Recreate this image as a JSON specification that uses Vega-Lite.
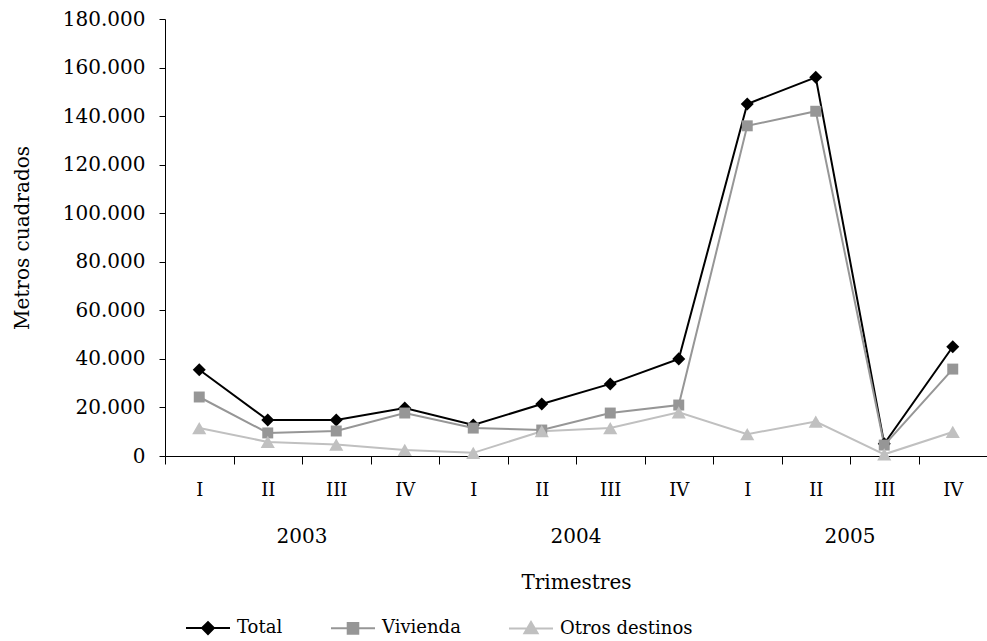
{
  "$schema": "https://vega.github.io/schema/vega-lite/v6.json",
  "width": 822,
  "height": 437,
  "autosize": {"type": "none"},
  "padding": {"left": 165, "top": 19, "right": 0, "bottom": 185},
  "background": "white",
  "config": {
    "font": "DejaVu Serif",
    "view": {"stroke": null},
    "axis": {
      "labelFont": "DejaVu Serif",
      "titleFont": "DejaVu Serif",
      "labelColor": "black",
      "titleColor": "black",
      "titleFontWeight": "normal",
      "domainColor": "black",
      "tickColor": "black",
      "grid": false
    },
    "legend": {"labelFont": "DejaVu Serif", "labelColor": "black"}
  },
  "layer": [
    {
      "data": {
        "values": [
          {"trim": "2003-I", "serie": "Total", "value": 35500},
          {"trim": "2003-II", "serie": "Total", "value": 14800},
          {"trim": "2003-III", "serie": "Total", "value": 14800},
          {"trim": "2003-IV", "serie": "Total", "value": 19800},
          {"trim": "2004-I", "serie": "Total", "value": 12800},
          {"trim": "2004-II", "serie": "Total", "value": 21400},
          {"trim": "2004-III", "serie": "Total", "value": 29700},
          {"trim": "2004-IV", "serie": "Total", "value": 40000},
          {"trim": "2005-I", "serie": "Total", "value": 145000},
          {"trim": "2005-II", "serie": "Total", "value": 156000},
          {"trim": "2005-III", "serie": "Total", "value": 5000},
          {"trim": "2005-IV", "serie": "Total", "value": 45000},
          {"trim": "2003-I", "serie": "Vivienda", "value": 24300},
          {"trim": "2003-II", "serie": "Vivienda", "value": 9500},
          {"trim": "2003-III", "serie": "Vivienda", "value": 10300},
          {"trim": "2003-IV", "serie": "Vivienda", "value": 17700},
          {"trim": "2004-I", "serie": "Vivienda", "value": 11500},
          {"trim": "2004-II", "serie": "Vivienda", "value": 10700},
          {"trim": "2004-III", "serie": "Vivienda", "value": 17700},
          {"trim": "2004-IV", "serie": "Vivienda", "value": 21000},
          {"trim": "2005-I", "serie": "Vivienda", "value": 136000},
          {"trim": "2005-II", "serie": "Vivienda", "value": 142000},
          {"trim": "2005-III", "serie": "Vivienda", "value": 4500},
          {"trim": "2005-IV", "serie": "Vivienda", "value": 35800},
          {"trim": "2003-I", "serie": "Otros destinos", "value": 11500},
          {"trim": "2003-II", "serie": "Otros destinos", "value": 5800},
          {"trim": "2003-III", "serie": "Otros destinos", "value": 4700},
          {"trim": "2003-IV", "serie": "Otros destinos", "value": 2500},
          {"trim": "2004-I", "serie": "Otros destinos", "value": 1300},
          {"trim": "2004-II", "serie": "Otros destinos", "value": 10200},
          {"trim": "2004-III", "serie": "Otros destinos", "value": 11500},
          {"trim": "2004-IV", "serie": "Otros destinos", "value": 18000},
          {"trim": "2005-I", "serie": "Otros destinos", "value": 9000},
          {"trim": "2005-II", "serie": "Otros destinos", "value": 14200},
          {"trim": "2005-III", "serie": "Otros destinos", "value": 700},
          {"trim": "2005-IV", "serie": "Otros destinos", "value": 9900}
        ]
      },
      "encoding": {
        "x": {
          "field": "trim",
          "type": "ordinal",
          "sort": null,
          "scale": {"type": "band", "paddingInner": 0, "paddingOuter": 0},
          "axis": {
            "title": null,
            "labelExpr": "split(datum.label, '-')[1]",
            "labelAngle": 0,
            "tickBand": "extent",
            "tickSize": 8,
            "labelPadding": 17,
            "labelFontSize": 18
          }
        },
        "y": {
          "field": "value",
          "type": "quantitative",
          "scale": {"domain": [0, 180000], "nice": false},
          "axis": {
            "title": "Metros cuadrados",
            "values": [0, 20000, 40000, 60000, 80000, 100000, 120000, 140000, 160000, 180000],
            "labelExpr": "datum.value == 0 ? '0' : format(datum.value / 1000, 'd') + '.000'",
            "labelFontSize": 20,
            "titleFontSize": 20,
            "tickSize": 6,
            "labelPadding": 14,
            "titlePadding": 30
          }
        },
        "color": {
          "field": "serie",
          "type": "nominal",
          "scale": {"domain": ["Total", "Vivienda", "Otros destinos"], "range": ["#000000", "#969696", "#c0c0c0"]},
          "legend": {
            "orient": "none",
            "legendX": 20,
            "legendY": 586,
            "direction": "horizontal",
            "title": null,
            "labelFontSize": 18,
            "columnPadding": 44,
            "labelOffset": 6,
            "padding": 0,
            "symbolSize": 1936,
            "symbolStrokeWidth": 2,
            "symbolOpacity": 1,
            "encode": {
              "symbols": {
                "update": {
                  "shape": {"signal": "datum.value === 'Total' ? 'M-1,0H1M-0.27,0L0,-0.27L0.27,0L0,0.27Z' : datum.value === 'Vivienda' ? 'M-1,0H1M-0.24,-0.24H0.24V0.24H-0.24Z' : 'M-1,0H1M-0.3,0.22L0,-0.3L0.3,0.22Z'"},
                  "fill": {"signal": "scale('color', datum.value)"},
                  "stroke": {"signal": "scale('color', datum.value)"},
                  "strokeWidth": {"value": 2},
                  "size": {"value": 1936},
                  "opacity": {"value": 1}
                }
              }
            }
          }
        }
      },
      "layer": [
        {"mark": {"type": "line", "strokeWidth": 2}},
        {
          "transform": [{"filter": "datum.serie === 'Total'"}],
          "mark": {"type": "point", "filled": true, "opacity": 1, "shape": "diamond", "size": 170}
        },
        {
          "transform": [{"filter": "datum.serie === 'Vivienda'"}],
          "mark": {"type": "point", "filled": true, "opacity": 1, "shape": "square", "size": 120}
        },
        {
          "transform": [{"filter": "datum.serie === 'Otros destinos'"}],
          "mark": {"type": "point", "filled": true, "opacity": 1, "shape": "triangle-up", "size": 200}
        }
      ]
    },
    {
      "data": {"values": [{"anio": "2003"}, {"anio": "2004"}, {"anio": "2005"}]},
      "mark": {"type": "rule", "opacity": 0},
      "encoding": {
        "x": {
          "field": "anio",
          "type": "ordinal",
          "scale": {"type": "band", "paddingInner": 0, "paddingOuter": 0},
          "axis": {
            "orient": "bottom",
            "title": "Trimestres",
            "domain": false,
            "ticks": false,
            "tickSize": 0,
            "labelPadding": 70,
            "labelAngle": 0,
            "labelFontSize": 20,
            "titleFontSize": 20,
            "titlePadding": 26
          }
        }
      }
    }
  ],
  "resolve": {"scale": {"x": "independent"}, "axis": {"x": "independent"}}
}
